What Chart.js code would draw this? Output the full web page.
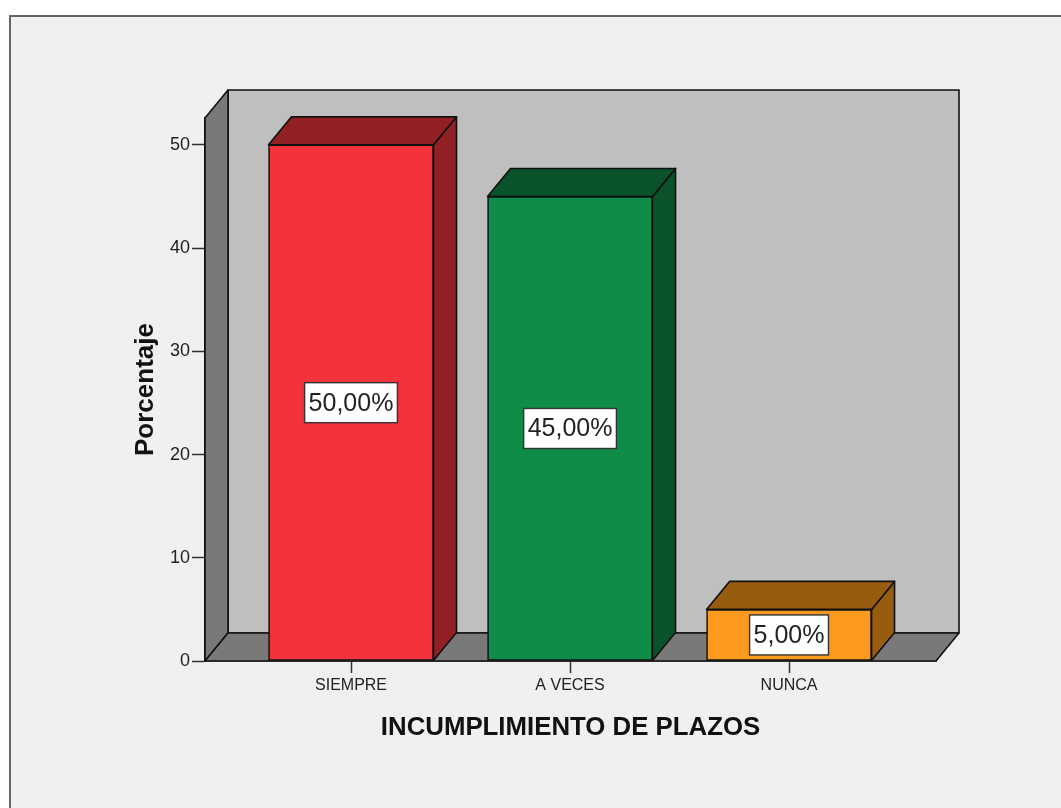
<!DOCTYPE html>
<html lang="es">
<head>
<meta charset="utf-8">
<title>Incumplimiento de plazos</title>
<script src="https://cdn.jsdelivr.net/npm/chart.js@4"></script>
<style>
  html, body { margin: 0; background: #fff; }
  #frame {
    position: absolute; left: 9px; top: 15px; right: 0; bottom: 0;
    background: #f0f0f0; border-left: 2px solid #666; border-top: 2px solid #666;
  }
  canvas { position: absolute; left: 0; top: 0; }
</style>
</head>
<body>
<div id="frame"></div>
<canvas id="myChart" width="1061" height="808"></canvas>
<script>
"use strict";

// DATA
const categories = ["SIEMPRE", "A VECES", "NUNCA"];
const percentages = [50, 45, 5];
const yTicks = [0, 10, 20, 30, 40, 50];
const frontColors = ["#f2333b", "#0e8c48", "#fb9a1e"];
const darkColors = ["#911f23", "#0a5229", "#985c10"];

// fake 3D depth of the box, in pixels
const DX = 23;
const DY = -28;
const FONT = '"Liberation Sans", Arial, sans-serif';

const poly = function (ctx, pts, fill) {
  ctx.beginPath();
  pts.forEach((p, i) => (i ? ctx.lineTo(p[0], p[1]) : ctx.moveTo(p[0], p[1])));
  ctx.closePath();
  ctx.fillStyle = fill;
  ctx.fill();
  ctx.stroke();
};

// back wall, left wall, floor and the side + top of each bar
const box3d = {
  id: "box3d",
  beforeDatasetsDraw(chart) {
    const { ctx, chartArea: a } = chart;
    ctx.save();
    ctx.strokeStyle = "#111";
    ctx.lineWidth = 1.6;
    ctx.lineJoin = "round";
    poly(ctx, [[a.left + DX, a.top + DY], [a.right + DX, a.top + DY], [a.right + DX, a.bottom + DY], [a.left + DX, a.bottom + DY]], "#bfbfbf");
    poly(ctx, [[a.left, a.top], [a.left + DX, a.top + DY], [a.left + DX, a.bottom + DY], [a.left, a.bottom]], "#797979");
    poly(ctx, [[a.left, a.bottom], [a.left + DX, a.bottom + DY], [a.right + DX, a.bottom + DY], [a.right, a.bottom]], "#797979");

    chart.getDatasetMeta(0).data.forEach((bar, i) => {
      const l = bar.x - bar.width / 2;
      const r = bar.x + bar.width / 2;
      poly(ctx, [[r, bar.y], [r + DX, bar.y + DY], [r + DX, bar.base + DY], [r, bar.base]], darkColors[i]);
      poly(ctx, [[l, bar.y], [l + DX, bar.y + DY], [r + DX, bar.y + DY], [r, bar.y]], darkColors[i]);
    });
    ctx.restore();
  },
  afterDatasetsDraw(chart) {
    const { ctx } = chart;
    ctx.save();
    ctx.font = "25px " + FONT;
    ctx.textAlign = "center";
    ctx.textBaseline = "middle";
    chart.getDatasetMeta(0).data.forEach((bar, i) => {
      const text = percentages[i].toFixed(2).replace(".", ",") + "%";
      const w = ctx.measureText(text).width + 8;
      const cy = (bar.y + bar.base) / 2;
      ctx.fillStyle = "#fff";
      ctx.strokeStyle = "#333";
      ctx.lineWidth = 1.4;
      ctx.fillRect(bar.x - w / 2, cy - 20, w, 40);
      ctx.strokeRect(bar.x - w / 2, cy - 20, w, 40);
      ctx.fillStyle = "#222";
      ctx.fillText(text, bar.x, cy + 1);
    });
    ctx.restore();
  },
};

const chart = new Chart(document.getElementById("myChart"), {
  type: "bar",
  data: {
    datasets: [
      {
        data: categories.map((c, i) => ({ x: i, y: percentages[i] })),
        backgroundColor: frontColors,
        borderColor: "#111",
        borderWidth: 1.6,
        borderSkipped: false,
        barThickness: 165,
      },
    ],
  },
  plugins: [box3d],
  options: {
    responsive: false,
    animation: false,
    layout: { padding: { left: 126, right: 125, top: 118, bottom: 61 } },
    plugins: { legend: { display: false }, tooltip: { enabled: false } },
    scales: {
      x: {
        type: "linear",
        offset: false,
        min: -0.6667,
        max: 2.671,
        afterFit: (scale) => { scale.height = 86; },
        afterBuildTicks: (scale) => { scale.ticks = categories.map((c, i) => ({ value: i })); },
        grid: { offset: false, drawOnChartArea: false, tickLength: 12, tickColor: "#333", tickWidth: 1.5 },
        border: { color: "#111", width: 1.6 },
        ticks: {
          autoSkip: false,
          maxRotation: 0,
          padding: 3,
          color: "#222",
          font: { family: FONT, size: 16 },
          callback: (v) => categories[v],
        },
        title: {
          display: true,
          text: "INCUMPLIMIENTO DE PLAZOS",
          color: "#111",
          font: { family: FONT, size: 25.8, weight: "bold" },
        },
      },
      y: {
        min: 0,
        max: 52.6,
        afterFit: (scale) => { scale.width = 79; },
        afterBuildTicks: (scale) => { scale.ticks = yTicks.map((v) => ({ value: v })); },
        grid: { drawOnChartArea: false, tickLength: 13, tickColor: "#333", tickWidth: 1.5 },
        border: { color: "#111", width: 1.6 },
        ticks: {
          padding: 2,
          color: "#222",
          font: { family: FONT, size: 18 },
        },
        title: {
          display: true,
          text: "Porcentaje",
          color: "#111",
          font: { family: FONT, size: 26, weight: "bold" },
        },
      },
    },
  },
});
</script>
</body>
</html>
